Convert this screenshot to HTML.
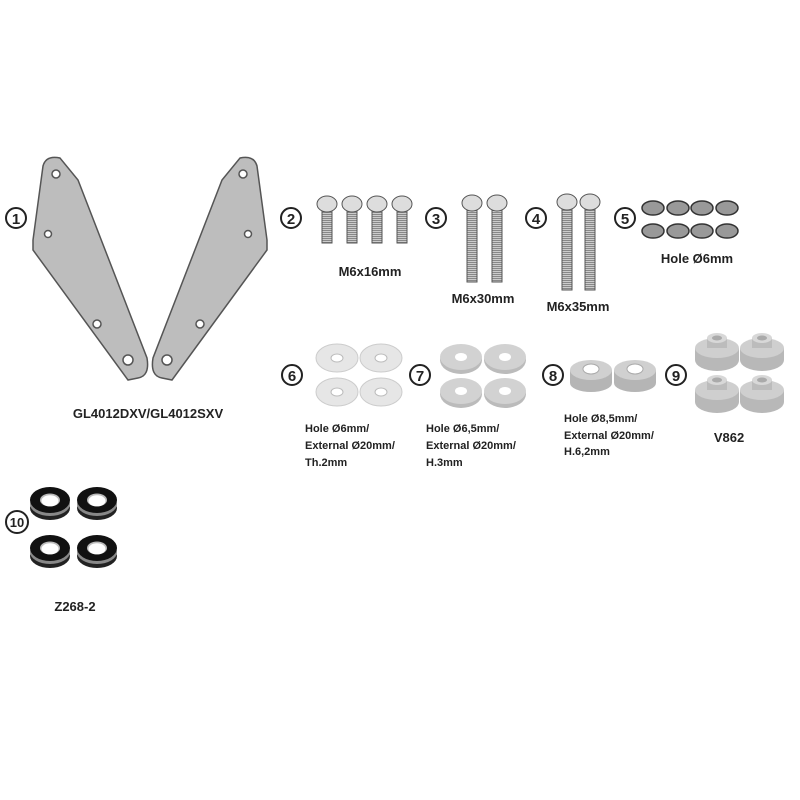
<!DOCTYPE html>
<html><head><style>
body{margin:0;background:#fff;}
svg{display:block}
text{font-family:"Liberation Sans",sans-serif;font-weight:bold;fill:#222}
.n{font-size:15px;text-anchor:middle}
.l{font-size:13px}
</style></head><body>
<svg width="800" height="800" viewBox="0 0 800 800">
<defs>
<pattern id="thr" width="4" height="2" patternUnits="userSpaceOnUse"><rect width="4" height="2" fill="#ccc"/><rect width="4" height="1" fill="#888"/></pattern>
<g id="v">
<path d="M-22,0 v12 a22,11 0 0 0 44,0 v-12 Z" fill="#b8b8b8"/>
<ellipse cx="0" cy="0" rx="22" ry="10" fill="#cfcfcf"/>
<rect x="-10" y="-10" width="20" height="10" fill="#bcbcbc"/>
<ellipse cx="0" cy="-10" rx="10" ry="5" fill="#d8d8d8"/>
<ellipse cx="0" cy="-10" rx="5" ry="2.5" fill="#aaa"/>
</g>
<g id="r">
<ellipse cx="0" cy="8" rx="20" ry="12" fill="#222"/>
<ellipse cx="0" cy="4" rx="20" ry="12" fill="#888"/>
<ellipse cx="0" cy="0" rx="20" ry="13" fill="#111"/>
<ellipse cx="0" cy="0" rx="10" ry="6.5" fill="#bbb"/>
<ellipse cx="0" cy="0.8" rx="8.5" ry="5.5" fill="#fff"/>
</g>
</defs>
<!-- circles -->
<g fill="#fff" stroke="#222" stroke-width="2">
<circle cx="16" cy="218" r="10"/><circle cx="291" cy="218" r="10"/><circle cx="436" cy="218" r="10"/>
<circle cx="536" cy="218" r="10"/><circle cx="625" cy="218" r="10"/><circle cx="292" cy="375" r="10"/>
<circle cx="420" cy="375" r="10"/><circle cx="553" cy="375" r="10"/><circle cx="676" cy="375" r="10"/>
<circle cx="17" cy="522" r="11"/></g>
<text x="16" y="224" class="n">1</text><text x="291" y="224" class="n">2</text><text x="436" y="224" class="n">3</text>
<text x="536" y="224" class="n">4</text><text x="625" y="224" class="n">5</text><text x="292" y="381" class="n">6</text>
<text x="420" y="381" class="n">7</text><text x="553" y="381" class="n">8</text><text x="676" y="381" class="n">9</text>
<text x="17" y="527" class="n" style="font-size:13px">10</text>
<!-- plates -->
<g fill="#bdbdbd" stroke="#555" stroke-width="1.5">
<path d="M43,166 Q46,155 60,158 L78,180 L147,358 Q150,376 138,378 L128,380 L33,250 L33,240 Z"/>
<path d="M257,166 Q254,155 240,158 L222,180 L153,358 Q150,376 162,378 L172,380 L267,250 L267,240 Z"/>
</g>
<g fill="#fff" stroke="#555" stroke-width="1.5">
<circle cx="56" cy="174" r="4"/><circle cx="48" cy="234" r="3.5"/><circle cx="97" cy="324" r="4"/><circle cx="128" cy="360" r="5"/>
<circle cx="243" cy="174" r="4"/><circle cx="248" cy="234" r="3.5"/><circle cx="200" cy="324" r="4"/><circle cx="167" cy="360" r="5"/>
</g>
<text x="148" y="418" class="l" text-anchor="middle">GL4012DXV/GL4012SXV</text>
<!-- screws -->
<g stroke="#555" stroke-width="1">
<g fill="url(#thr)">
<rect x="322" y="208" width="10" height="35"/><rect x="347" y="208" width="10" height="35"/><rect x="372" y="208" width="10" height="35"/><rect x="397" y="208" width="10" height="35"/>
<rect x="467" y="208" width="10" height="74"/><rect x="492" y="208" width="10" height="74"/>
<rect x="562" y="208" width="10" height="82"/><rect x="585" y="208" width="10" height="82"/>
</g>
<g fill="#ddd">
<ellipse cx="327" cy="204" rx="10" ry="8"/><ellipse cx="352" cy="204" rx="10" ry="8"/><ellipse cx="377" cy="204" rx="10" ry="8"/><ellipse cx="402" cy="204" rx="10" ry="8"/>
<ellipse cx="472" cy="203" rx="10" ry="8"/><ellipse cx="497" cy="203" rx="10" ry="8"/>
<ellipse cx="567" cy="202" rx="10" ry="8"/><ellipse cx="590" cy="202" rx="10" ry="8"/>
</g></g>
<text x="370" y="276" class="l" text-anchor="middle">M6x16mm</text>
<text x="483" y="303" class="l" text-anchor="middle">M6x30mm</text>
<text x="578" y="311" class="l" text-anchor="middle">M6x35mm</text>
<!-- lock washers -->
<g fill="#999" stroke="#333" stroke-width="1.5">
<ellipse cx="653" cy="208" rx="11" ry="7"/><ellipse cx="678" cy="208" rx="11" ry="7"/><ellipse cx="702" cy="208" rx="11" ry="7"/><ellipse cx="727" cy="208" rx="11" ry="7"/>
<ellipse cx="653" cy="231" rx="11" ry="7"/><ellipse cx="678" cy="231" rx="11" ry="7"/><ellipse cx="702" cy="231" rx="11" ry="7"/><ellipse cx="727" cy="231" rx="11" ry="7"/>
</g>
<text x="697" y="263" class="l" text-anchor="middle">Hole Ø6mm</text>
<!-- washers 6 -->
<g fill="#e6e6e6" stroke="#ccc"><ellipse cx="337" cy="358" rx="21" ry="14"/><ellipse cx="381" cy="358" rx="21" ry="14"/><ellipse cx="337" cy="392" rx="21" ry="14"/><ellipse cx="381" cy="392" rx="21" ry="14"/></g>
<g fill="#fff" stroke="#bbb"><ellipse cx="337" cy="358" rx="6" ry="4"/><ellipse cx="381" cy="358" rx="6" ry="4"/><ellipse cx="337" cy="392" rx="6" ry="4"/><ellipse cx="381" cy="392" rx="6" ry="4"/></g>
<!-- washers 7 -->
<g fill="#bbb"><ellipse cx="461" cy="360" rx="21" ry="14"/><ellipse cx="505" cy="360" rx="21" ry="14"/><ellipse cx="461" cy="394" rx="21" ry="14"/><ellipse cx="505" cy="394" rx="21" ry="14"/></g>
<g fill="#d2d2d2"><ellipse cx="461" cy="357" rx="21" ry="13"/><ellipse cx="505" cy="357" rx="21" ry="13"/><ellipse cx="461" cy="391" rx="21" ry="13"/><ellipse cx="505" cy="391" rx="21" ry="13"/></g>
<g fill="#fff"><ellipse cx="461" cy="357" rx="6" ry="4"/><ellipse cx="505" cy="357" rx="6" ry="4"/><ellipse cx="461" cy="391" rx="6" ry="4"/><ellipse cx="505" cy="391" rx="6" ry="4"/></g>
<!-- spacers 8 -->
<g fill="#b5b5b5"><rect x="570" y="370" width="42" height="13"/><rect x="614" y="370" width="42" height="13"/><ellipse cx="591" cy="383" rx="21" ry="9"/><ellipse cx="635" cy="383" rx="21" ry="9"/></g>
<g fill="#d0d0d0"><ellipse cx="591" cy="370" rx="21" ry="10"/><ellipse cx="635" cy="370" rx="21" ry="10"/></g>
<g fill="#fff" stroke="#aaa"><ellipse cx="591" cy="369" rx="8" ry="5"/><ellipse cx="635" cy="369" rx="8" ry="5"/></g>
<!-- 9 -->
<use href="#v" x="717" y="348"/><use href="#v" x="762" y="348"/><use href="#v" x="717" y="390"/><use href="#v" x="762" y="390"/>
<text x="729" y="442" class="l" text-anchor="middle">V862</text>
<!-- labels -->
<g class="l" style="font-size:11px">
<text x="305" y="432">Hole Ø6mm/</text><text x="305" y="449">External Ø20mm/</text><text x="305" y="466">Th.2mm</text>
<text x="426" y="432">Hole Ø6,5mm/</text><text x="426" y="449">External Ø20mm/</text><text x="426" y="466">H.3mm</text>
<text x="564" y="422">Hole Ø8,5mm/</text><text x="564" y="439">External Ø20mm/</text><text x="564" y="455">H.6,2mm</text>
</g>
<!-- 10 -->
<use href="#r" x="50" y="500"/><use href="#r" x="97" y="500"/><use href="#r" x="50" y="548"/><use href="#r" x="97" y="548"/>
<text x="75" y="611" class="l" text-anchor="middle">Z268-2</text>
</svg>
</body></html>
